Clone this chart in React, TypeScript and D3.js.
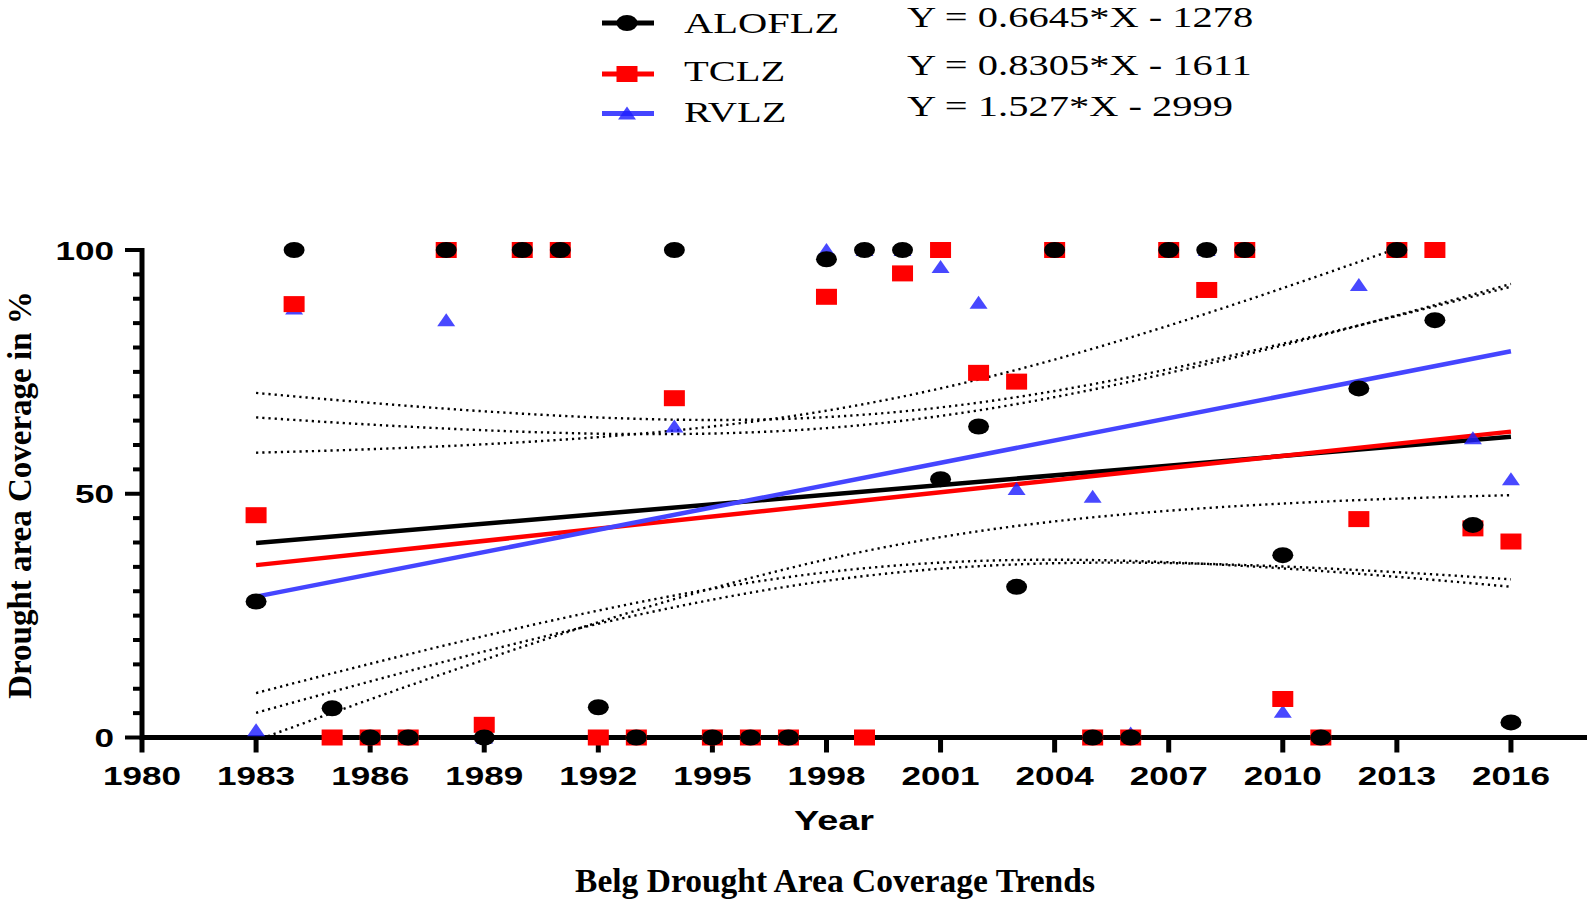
import React from "react";
import * as d3 from "d3";

// years on the x axis
const years = [
  1983, 1984, 1985, 1986, 1987, 1988, 1989, 1990, 1991, 1992, 1993, 1994,
  1995, 1996, 1997, 1998, 1999, 2000, 2001, 2002, 2003, 2004, 2005, 2006,
  2007, 2008, 2009, 2010, 2011, 2012, 2013, 2014, 2015, 2016,
];

// drought area coverage in %
const aloflz = [
  27.9, 100, 6, 0, 0, 100, 0, 100, 100, 6.2, 0, 100, 0, 0, 0, 98.1, 100, 100,
  53, 63.8, 30.9, 100, 0, 0, 100, 100, 100, 37.4, 0, 71.6, 100, 85.6, 43.6, 3.1,
];
const tclz = [
  45.6, 88.9, 0, 0, 0, 100, 2.6, 100, 100, 0, 0, 69.6, 0, 0, 0, 90.4, 0, 95.2,
  100, 74.8, 73, 100, 0, 0, 100, 91.8, 100, 7.9, 0, 44.8, 100, 100, 42.9, 40.2,
];
const rvlz = [
  1.5, 88, 0, 0, 0, 85.6, 0, 100, 100, 0, 0, 63.8, 0, 0, 0, 100, 100, 100,
  96.5, 89.2, 51, 100, 49.4, 0.8, 100, 100, 100, 5.3, 0, 92.8, 100, 100, 61.4, 53,
];

const seriesNames = ["ALOFLZ", "TCLZ", "RVLZ"];
const equations = [
  "Y = 0.6645*X - 1278",
  "Y = 0.8305*X - 1611",
  "Y = 1.527*X - 2999",
];
const xTicks = [1980, 1983, 1986, 1989, 1992, 1995, 1998, 2001, 2004, 2007, 2010, 2013, 2016];
const yTicks = [0, 50, 100];

const W = 1590;
const H = 903;
const SX = 1.35; // the original figure is stretched sideways
const sans = "'Liberation Sans', Arial, sans-serif";
const serif = "'Liberation Serif', 'Times New Roman', serif";

const x = d3.scaleLinear().domain([1980, 2018]).range([142, 1587]);
const y = d3.scaleLinear().domain([0, 100]).range([737.5, 250]);

// least squares line + 95% confidence band of the line
function fit(xs: number[], ys: number[]) {
  const n = xs.length;
  const mx = d3.mean(xs) as number;
  const my = d3.mean(ys) as number;
  const sxx = d3.sum(xs, (v) => (v - mx) ** 2);
  const sxy = d3.sum(xs.map((v, i) => (v - mx) * (ys[i] - my)));
  const b = sxy / sxx;
  const a = my - b * mx;
  const sse = d3.sum(xs.map((v, i) => (ys[i] - a - b * v) ** 2));
  const s = Math.sqrt(sse / (n - 2));
  const t = 2.0369; // t(0.975, 32)
  const band = xs.map((v) => {
    const h = t * s * Math.sqrt(1 / n + (v - mx) ** 2 / sxx);
    return { x: v, lo: a + b * v - h, hi: a + b * v + h };
  });
  return { a, b, band };
}

const series = [
  { name: seriesNames[0], values: aloflz, color: "#000000", marker: "circle" },
  { name: seriesNames[1], values: tclz, color: "#ff0000", marker: "square" },
  { name: seriesNames[2], values: rvlz, color: "#4545ff", marker: "triangle" },
];

const Marker = ({ kind, cx, cy }: { kind: string; cx: number; cy: number }) => {
  if (kind === "circle") return <ellipse cx={cx} cy={cy} rx={10.5} ry={8} fill="#000" />;
  if (kind === "square") return <rect x={cx - 10.5} y={cy - 8} width={21} height={16} fill="#ff0000" />;
  return (
    <path
      d={`M${cx},${cy - 7}L${cx + 9},${cy + 6}L${cx - 9},${cy + 6}Z`}
      fill="#2020ff"
      fillOpacity={0.82}
    />
  );
};

const App = () => {
  const fits = series.map((s) => fit(years, s.values));
  const bandLine = (key: "lo" | "hi") =>
    d3
      .line<{ x: number; lo: number; hi: number }>()
      .x((d) => x(d.x))
      .y((d) => y(d[key]))
      .curve(d3.curveNatural);

  const x0 = years[0];
  const x1 = years[years.length - 1];
  const minor = y.ticks(20);

  return (
    <svg
      width={W}
      height={H}
      style={{ position: "absolute", left: 0, top: 0, background: "#fff" }}
    >
      <defs>
        <clipPath id="plot">
          <rect x={x(1980)} y={y(100)} width={x(2018) - x(1980)} height={y(0) - y(100)} />
        </clipPath>
      </defs>

      {/* legend */}
      {series.map((s, i) => {
        const ly = [23, 74, 113.5][i];
        return (
          <g key={s.name}>
            <line x1={602} x2={654} y1={ly} y2={ly} stroke={s.color} strokeWidth={5} />
            <Marker kind={s.marker} cx={627} cy={ly} />
            <text
              transform={`translate(684,${[33, 81, 122][i]}) scale(${SX},1)`}
              fontFamily={serif}
              fontSize={30}
            >
              {s.name}
            </text>
            <text
              transform={`translate(907,${[27, 75, 116][i]}) scale(${SX},1)`}
              fontFamily={serif}
              fontSize={30}
            >
              {equations[i]}
            </text>
          </g>
        );
      })}

      {/* confidence bands */}
      <g clipPath="url(#plot)" fill="none" stroke="#000" strokeWidth={2.4} strokeDasharray="2.2 4">
        {fits.map((f, i) => (
          <g key={i}>
            <path d={bandLine("hi")(f.band) || ""} />
            <path d={bandLine("lo")(f.band) || ""} />
          </g>
        ))}
      </g>

      {/* fit lines */}
      {fits.map((f, i) => (
        <line
          key={i}
          x1={x(x0)}
          x2={x(x1)}
          y1={y(f.a + f.b * x0)}
          y2={y(f.a + f.b * x1)}
          stroke={series[i].color}
          strokeWidth={4.5}
        />
      ))}

      {/* axes */}
      <g stroke="#000">
        <line x1={x(1980)} x2={x(2018)} y1={y(0)} y2={y(0)} strokeWidth={5} />
        <line x1={x(1980)} x2={x(1980)} y1={y(0) + 2.5} y2={y(100) - 2} strokeWidth={5} />
        {xTicks.map((t) => (
          <line key={t} x1={x(t)} x2={x(t)} y1={y(0)} y2={y(0) + 15} strokeWidth={5} />
        ))}
        {minor.map((t) => (
          <line
            key={t}
            x1={x(1980)}
            x2={x(1980) - (yTicks.includes(t) ? 17 : 9)}
            y1={y(t)}
            y2={y(t)}
            strokeWidth={4}
          />
        ))}
      </g>
      {xTicks.map((t) => (
        <text
          key={t}
          transform={`translate(${x(t)},785) scale(${SX},1)`}
          textAnchor="middle"
          fontFamily={sans}
          fontWeight="bold"
          fontSize={26}
        >
          {t}
        </text>
      ))}
      {yTicks.map((t) => (
        <text
          key={t}
          transform={`translate(114,${y(t) + 9.5}) scale(${SX},1)`}
          textAnchor="end"
          fontFamily={sans}
          fontWeight="bold"
          fontSize={26}
        >
          {t}
        </text>
      ))}

      {/* points: RVLZ under TCLZ under ALOFLZ */}
      {[2, 1, 0].map((si) =>
        years.map((yr, j) => (
          <Marker key={`${si}-${yr}`} kind={series[si].marker} cx={x(yr)} cy={y(series[si].values[j])} />
        ))
      )}

      {/* titles */}
      <text
        transform={`translate(834,830) scale(${SX},1)`}
        textAnchor="middle"
        fontFamily={sans}
        fontWeight="bold"
        fontSize={28}
      >
        Year
      </text>
      <text
        transform="translate(31,495) rotate(-90)"
        textAnchor="middle"
        fontFamily={serif}
        fontWeight="bold"
        fontSize={33}
      >
        Drought area Coverage in %
      </text>
      <text
        x={835}
        y={892}
        textAnchor="middle"
        fontFamily={serif}
        fontWeight="bold"
        fontSize={33.5}
      >
        Belg Drought Area Coverage Trends
      </text>
    </svg>
  );
};

export default App;
